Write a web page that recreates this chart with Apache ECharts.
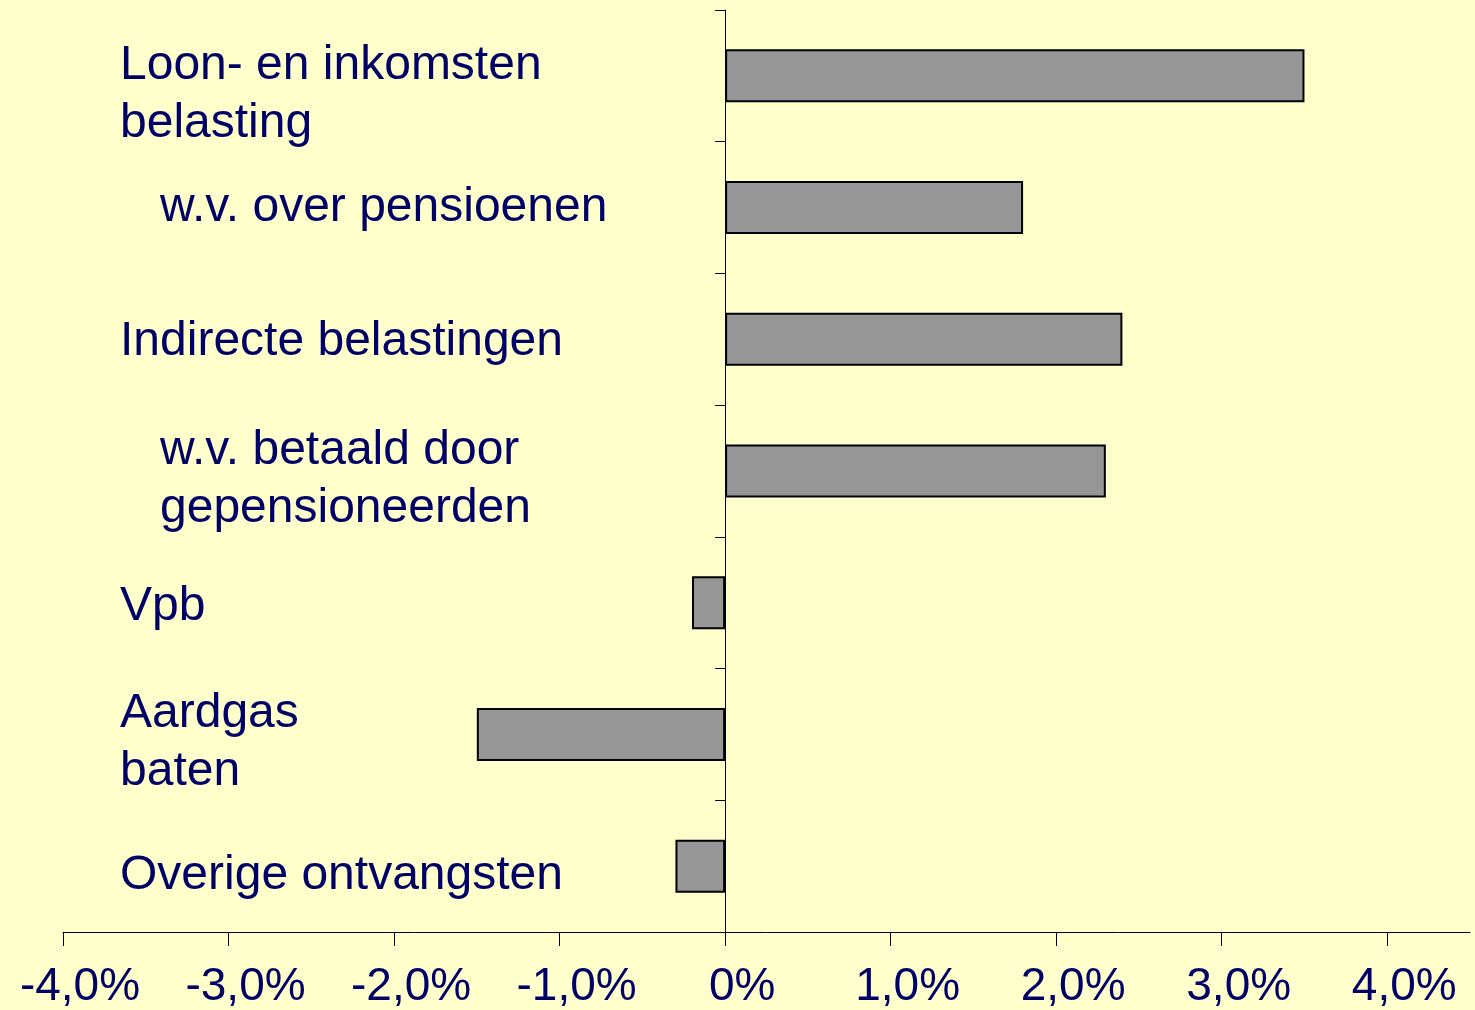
<!DOCTYPE html>
<html>
<head>
<meta charset="utf-8">
<script src="https://cdn.jsdelivr.net/npm/echarts@6/dist/echarts.min.js"></script>
<style>
html,body{margin:0;padding:0;background:#FFFFCC;}
#c{width:1475px;height:1010px;}
</style>
</head>
<body>
<div id="c"></div>
<script>
const categories = [
  'Loon- en inkomsten\nbelasting',
  'w.v. over pensioenen',
  'Indirecte belastingen',
  'w.v. betaald door\ngepensioneerden',
  'Vpb',
  'Aardgas\nbaten',
  'Overige ontvangsten'
];
const values = [3.5, 1.8, 2.4, 2.3, -0.2, -1.5, -0.3];
const tickValues = [-4, -3, -2, -1, 0, 1, 2, 3, 4];

// label layout tweaks (vertical nudge in px), styling only
const labelNudge = [19, 0, 2, 9, 4, 8, 10];

const NAVY = '#000066';
const FONT = 'Liberation Sans, Arial, sans-serif';
const rich = {
  t: {color: NAVY, fontFamily: FONT, fontSize: 48, lineHeight: 58}
};
labelNudge.forEach((n, i) => {
  rich['sp' + i] = {fontSize: 1, lineHeight: Math.max(1, 2 * n)};
});
const labelData = categories.map((c, i) => ({
  value: c,
  textStyle: {padding: [0, 0, 0, c.indexOf('w.v.') === 0 ? 40 : 0]}
}));

const chart = echarts.init(document.getElementById('c'));
chart.setOption({
  backgroundColor: '#FFFFCC',
  animation: false,
  grid: {left: 63, right: 5, top: 10, bottom: 78, containLabel: false, outerBoundsMode: 'none'},
  xAxis: {
    type: 'value', min: -4, max: 4.5, interval: 1,
    splitLine: {show: false},
    axisLine: {show: true, onZero: false, lineStyle: {color: '#000', width: 1}},
    axisTick: {show: true, length: 14, lineStyle: {color: '#000'}, customValues: tickValues},
    axisLabel: {
      customValues: tickValues,
      color: NAVY, fontFamily: FONT, fontSize: 46,
      margin: 32, padding: [0, 0, 0, 34],
      formatter: v => v === 0 ? '0%' : (v.toFixed(1).replace('.', ',') + '%')
    }
  },
  yAxis: [{
    type: 'category', inverse: true, data: categories,
    axisLine: {show: true, onZero: true, lineStyle: {color: '#000', width: 1}},
    axisTick: {show: true, length: 10, alignWithLabel: false, lineStyle: {color: '#000'}},
    splitLine: {show: false},
    axisLabel: {show: false}
  }, {
    type: 'category', inverse: true, data: labelData, position: 'left',
    axisLine: {show: false, onZero: false},
    axisTick: {show: false},
    splitLine: {show: false},
    axisLabel: {
      show: true, inside: true, interval: 0, align: 'left', margin: 57,
      color: NAVY, fontFamily: FONT, fontSize: 48, lineHeight: 58,
      formatter: (v, i) => (labelNudge[i] > 0 ? '{sp' + i + '| }\n' : '') +
        v.split('\n').map(s => '{t|' + s + '}').join('\n'),
      rich: rich
    }
  }],
  series: [{
    type: 'bar', data: values, barWidth: 53, yAxisIndex: 0,
    itemStyle: {color: '#969696', borderColor: '#000', borderWidth: 2}
  }]
});
</script>
</body>
</html>
